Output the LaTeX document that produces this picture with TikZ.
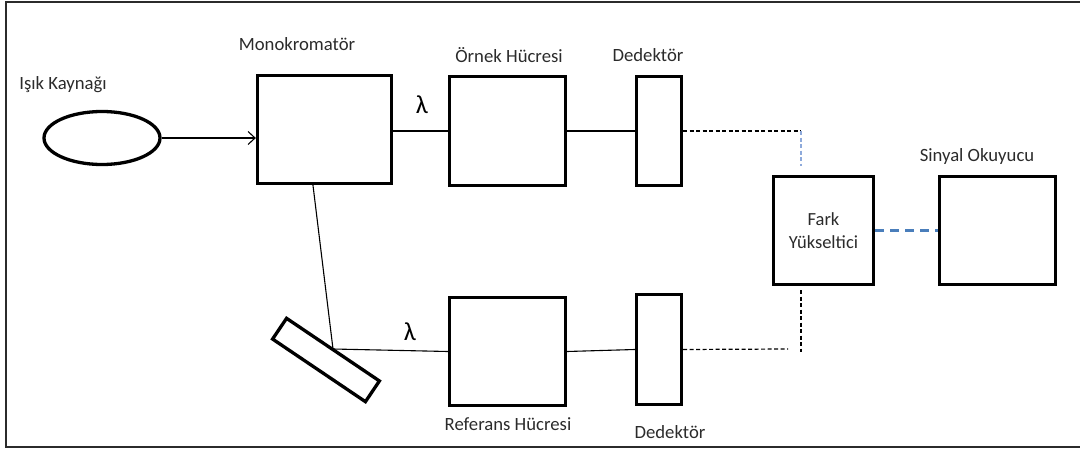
\documentclass[tikz,border=0pt]{standalone}
\usepackage{fontspec}
\setmainfont{Carlito}
\usetikzlibrary{arrows.meta,calc,shapes.geometric}
\definecolor{txt}{HTML}{2B2B2B}
\definecolor{blueline}{HTML}{4A7EBB}
\definecolor{lightblue}{HTML}{8EAADB}
\tikzset{
  thickbox/.style={draw=black,line width=3.3pt,rectangle,inner sep=0pt},
  lbl/.style={text=txt,font=\fontsize{18.7}{22}\selectfont,inner sep=0pt},
  lam/.style={text=black,font=\fontsize{26}{28}\selectfont,inner sep=0pt},
  thin/.style={draw=black,line width=1.1pt},
  blackdash/.style={draw=black,line width=1.2pt,dash pattern=on 4pt off 2.5pt},
  bluedot/.style={draw=lightblue,line width=1.2pt,dash pattern=on 4pt off 2.5pt},
  bluedash/.style={draw=blueline,line width=2.2pt,dash pattern=on 9pt off 6pt},
}
\begin{document}
\begin{tikzpicture}[x=1pt,y=-1pt]
\useasboundingbox (0,0) rectangle (1080,450);
% frame
\draw[draw=txt,line width=1.8pt] (1095,2) -- (6,2) -- (6,447) -- (1095,447);

% nodes
\node[thickbox,ellipse,minimum width=116pt,minimum height=53pt] (src) at (102,138) {};
\node[thickbox,minimum width=134pt,minimum height=108pt] (mono) at (324.5,129.5) {};
\node[thickbox,minimum width=116pt,minimum height=109pt] (ornek) at (507.5,131) {};
\node[thickbox,minimum width=45pt,minimum height=109pt] (det1) at (659,131) {};
\node[thickbox,minimum width=100pt,minimum height=108pt,align=center,text=txt,font=\fontsize{18.5}{23}\selectfont] (fark) at (823.5,230.5) {Fark\\Yükseltici};
\node[thickbox,minimum width=116pt,minimum height=108pt] (sinyal) at (997.5,230.5) {};
\node[thickbox,minimum width=45pt,minimum height=110pt] (det2) at (659,349.5) {};
\node[thickbox,minimum width=116pt,minimum height=108pt] (ref) at (507.5,351.5) {};
\node[thickbox,minimum width=112pt,minimum height=25pt,rotate=-34] (mirror) at (326,360) {};

% labels
\node[lbl] (lsrc) at (63,85) {Işık Kaynağı};
\node[lbl] (lmono) at (297,44) {Monokromatör};
\node[lbl] (lornek) at (509,55) {Örnek Hücresi};
\node[lbl] (ldet1) at (648,55) {Dedektör};
\node[lbl] (lsin) at (977,157) {Sinyal Okuyucu};
\node[lbl] (lref) at (508,424) {Referans Hücresi};
\node[lbl] (ldet2) at (670,432) {Dedektör};
\node[lam] (lam1) at (422,105) {λ};
\node[lam] (lam2) at (410,332) {λ};

% coordinates
\coordinate (ms) at ($(mono.south west)!0.416!(mono.south east)$);
\coordinate (mp) at (333,349);
\coordinate (c1) at (801,131);
\coordinate (c2) at (801,166);
\coordinate (c3) at (801,290);
\coordinate (c4) at (801,352);
\coordinate (c5) at (788,349);

% connectors
\draw[thin,-{Straight Barb[length=7pt,width=13pt,line width=1.1pt]}] (src.east) -- (mono.west |- src.east);
\draw[thin] (mono.east |- ornek.west) -- (ornek.west);
\draw[thin] (ornek.east) -- (det1.west);
\draw[blackdash] (det1.east) -- (c1);
\draw[bluedot] (c1) -- (c2);
\draw[bluedash] (fark.east) -- (sinyal.west);
\draw[blackdash] (c3) -- (c4);
\draw[blackdash] (det2.east) -- (c5);
\draw[thin] (ref.east) -- (det2.west);
\draw[thin] (ms) -- (mp);
\draw[thin] (mp) -- (ref.west);
\end{tikzpicture}
\end{document}
